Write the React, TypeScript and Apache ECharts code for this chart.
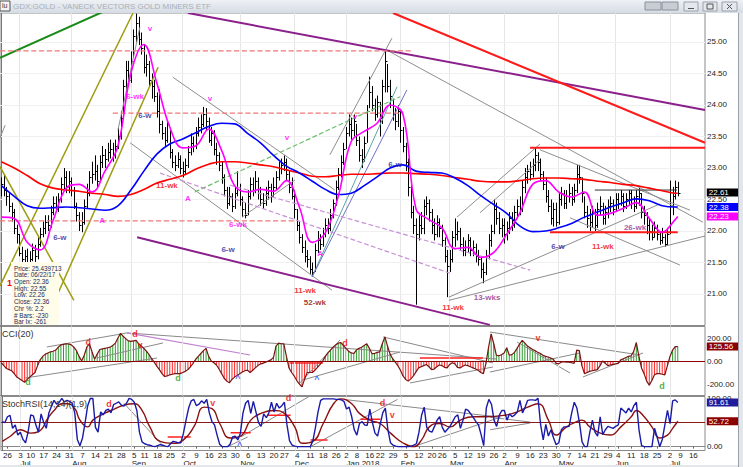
import React, { useEffect, useRef } from "react";
import * as echarts from "echarts";

const FONT = "'Liberation Sans', Arial, Helvetica, sans-serif";

// ---- daily bars (Jun 22 2017 .. Jul 6 2018), index = trading day ----
const closes = [
  22.75,22.65,22.55,22.40,22.30,22.05,21.95,21.65,21.55,21.60,
  21.50,21.55,21.70,21.60,21.80,21.95,22.05,22.15,22.10,22.30,
  22.45,22.35,22.50,22.75,22.85,22.70,22.80,22.65,22.40,22.25,
  22.10,22.15,22.40,22.60,22.85,22.90,22.95,22.80,23.10,23.20,
  23.15,23.25,23.30,23.20,23.35,23.50,23.80,24.30,24.55,24.40,
  24.70,25.10,25.30,25.05,24.90,24.60,24.65,24.40,24.30,24.15,
  23.90,23.70,23.55,23.45,23.70,23.25,23.10,23.05,23.15,23.00,
  22.95,23.05,23.25,23.40,23.35,23.55,23.65,23.70,23.85,23.75,
  23.45,23.55,23.30,23.20,23.05,22.85,22.65,22.45,22.55,22.40,
  22.60,22.70,22.50,22.35,22.25,22.55,22.75,22.65,22.80,22.60,
  22.50,22.45,22.60,22.70,22.55,22.70,22.85,23.00,23.05,23.10,
  22.90,22.70,22.55,22.35,22.10,21.90,21.75,21.60,21.55,21.40,
  21.35,21.70,21.85,21.80,21.95,22.10,22.05,22.25,22.45,22.70,
  22.90,23.10,23.30,23.55,23.70,23.60,23.75,23.45,23.20,23.15,
  23.40,23.90,24.20,24.00,23.85,24.05,23.80,24.30,24.70,24.30,
  24.15,23.85,23.75,23.90,23.60,23.35,23.10,22.70,22.30,22.10,
  21.95,22.10,22.05,22.40,22.45,22.30,22.10,21.95,22.15,22.05,
  21.85,21.60,21.45,21.55,21.90,21.95,22.00,21.80,21.70,21.75,
  21.85,21.70,21.75,21.60,21.55,21.40,21.35,21.60,21.85,22.00,
  22.35,22.20,22.05,22.10,21.95,22.05,22.20,22.10,22.30,22.40,
  22.35,22.70,22.85,22.95,22.90,23.05,23.20,23.10,22.90,22.75,
  22.55,22.40,22.20,22.35,22.15,22.50,22.60,22.45,22.55,22.60,
  22.50,22.65,22.90,22.85,22.60,22.30,22.20,22.15,22.30,22.10,
  22.35,22.40,22.20,22.30,22.40,22.45,22.35,22.50,22.45,22.55,
  22.40,22.50,22.60,22.45,22.40,22.55,22.60,22.30,22.25,22.10,
  22.00,21.90,22.05,21.95,21.85,21.90,21.80,21.95,22.40,22.55,
  22.70,22.61,
];
const highs = [
  22.85,22.90,22.70,22.60,22.45,22.35,22.10,21.95,21.75,21.70,
  21.72,21.68,21.80,21.78,21.90,22.05,22.15,22.25,22.25,22.40,
  22.55,22.55,22.60,22.85,23.00,22.95,22.95,22.85,22.70,22.45,
  22.30,22.30,22.50,22.75,22.95,23.10,23.20,23.05,23.20,23.35,
  23.30,23.40,23.45,23.40,23.45,23.65,23.90,24.40,24.70,24.70,
  24.85,25.20,25.45,25.40,25.15,24.95,24.80,24.70,24.50,24.40,
  24.20,24.25,23.75,23.65,23.75,23.60,23.30,23.20,23.25,23.20,
  23.10,23.15,23.35,23.55,23.50,23.65,23.80,23.85,23.97,23.95,
  23.80,23.65,23.60,23.40,23.25,23.10,22.90,22.70,22.70,22.60,
  22.70,22.95,22.75,22.55,22.45,22.65,22.85,22.85,22.95,22.85,
  22.70,22.60,22.70,22.80,22.75,22.85,22.95,23.10,23.15,23.20,
  23.15,22.95,22.85,22.65,22.35,22.15,21.95,21.85,21.70,21.60,
  21.50,21.80,22.00,21.95,22.05,22.20,22.20,22.35,22.50,22.80,
  23.00,23.20,23.40,23.65,23.85,23.80,23.85,23.70,23.50,23.30,
  23.50,24.00,24.45,24.30,24.10,24.15,24.05,24.40,24.87,24.65,
  24.40,24.10,23.95,24.00,23.90,23.65,23.40,23.15,22.80,22.40,
  22.20,22.25,22.30,22.50,22.55,22.50,22.35,22.20,22.25,22.20,
  22.10,21.90,21.70,21.70,22.00,22.20,22.15,22.05,21.90,21.85,
  21.95,21.90,21.85,21.80,21.70,21.60,21.50,21.70,21.95,22.10,
  22.50,22.45,22.30,22.20,22.20,22.15,22.30,22.30,22.40,22.50,
  22.55,22.80,23.00,23.05,23.10,23.15,23.32,23.25,23.15,22.95,
  22.85,22.65,22.50,22.45,22.45,22.60,22.70,22.65,22.65,22.75,
  22.70,22.75,23.05,23.05,22.85,22.55,22.40,22.35,22.40,22.35,
  22.45,22.55,22.45,22.40,22.50,22.55,22.50,22.60,22.60,22.65,
  22.60,22.60,22.65,22.65,22.55,22.65,22.68,22.60,22.40,22.30,
  22.20,22.10,22.15,22.10,22.00,22.05,21.95,22.05,22.80,22.70,
  22.80,22.78,
];
const lows = [
  22.55,22.55,22.40,22.30,22.15,21.95,21.80,21.60,21.48,21.48,
  21.45,21.45,21.52,21.50,21.55,21.75,21.90,21.95,22.00,22.05,
  22.25,22.30,22.30,22.45,22.65,22.60,22.60,22.55,22.35,22.15,
  22.00,21.98,22.10,22.35,22.55,22.75,22.80,22.70,22.80,23.00,
  23.00,23.10,23.15,23.10,23.15,23.30,23.45,23.80,24.20,24.30,
  24.35,24.75,25.00,24.95,24.80,24.50,24.45,24.30,24.10,24.05,
  23.80,23.55,23.45,23.35,23.40,23.15,23.00,22.95,23.00,22.90,
  22.85,22.90,23.00,23.20,23.25,23.30,23.50,23.55,23.65,23.60,
  23.40,23.35,23.20,23.05,22.95,22.75,22.55,22.35,22.40,22.30,
  22.35,22.55,22.40,22.22,22.20,22.25,22.50,22.55,22.60,22.50,
  22.40,22.35,22.40,22.50,22.45,22.55,22.65,22.80,22.90,22.95,
  22.80,22.60,22.50,22.20,22.00,21.80,21.65,21.50,21.42,21.32,
  21.27,21.35,21.65,21.70,21.75,21.90,21.95,22.00,22.20,22.40,
  22.65,22.85,23.05,23.30,23.50,23.45,23.50,23.35,23.10,23.00,
  23.10,23.40,23.95,23.90,23.75,23.80,23.50,23.70,24.20,24.20,
  23.95,23.75,23.60,23.65,23.40,23.25,22.95,22.55,22.20,21.95,
  20.83,21.85,21.95,21.95,22.25,22.15,21.95,21.85,21.90,21.90,
  21.75,21.50,20.95,21.35,21.50,21.75,21.85,21.70,21.60,21.60,
  21.65,21.60,21.60,21.50,21.45,21.25,21.17,21.30,21.55,21.75,
  21.95,22.10,21.95,21.90,21.80,21.85,21.95,22.00,22.05,22.20,
  22.25,22.30,22.60,22.75,22.80,22.85,22.95,22.95,22.80,22.65,
  22.45,22.30,22.10,22.07,22.07,22.10,22.40,22.35,22.35,22.45,
  22.40,22.45,22.60,22.75,22.45,22.20,22.05,22.00,22.05,22.00,
  22.05,22.25,22.10,22.10,22.20,22.30,22.25,22.30,22.35,22.40,
  22.30,22.35,22.40,22.35,22.30,22.35,22.40,22.20,22.10,21.95,
  21.85,21.85,21.90,21.85,21.78,21.80,21.75,21.78,21.95,22.25,
  22.50,22.55,
];

// ---- moving averages, read every 5 bars ----
const maIdx = [0,5,10,15,20,25,30,35,40,45,50,55,60,65,70,75,80,85,90,95,100,105,110,115,120,125,130,135,140,145,150,155,160,165,170,175,180,185,190,195,200,205,210,215,220,225,230,235,240,245,250,255,260,261];
const redMA = [23.10,23.00,22.88,22.75,22.68,22.65,22.63,22.60,22.58,22.55,22.58,22.66,22.76,22.82,22.88,22.98,23.06,23.10,23.10,23.08,23.05,23.02,22.97,22.92,22.87,22.86,22.88,22.90,22.90,22.91,22.92,22.92,22.91,22.90,22.88,22.85,22.82,22.79,22.78,22.78,22.80,22.83,22.84,22.84,22.83,22.82,22.79,22.77,22.74,22.72,22.68,22.64,22.60,22.60];
const blueMA = [22.72,22.55,22.40,22.36,22.37,22.38,22.37,22.35,22.33,22.40,22.65,22.95,23.22,23.38,23.46,23.56,23.66,23.71,23.70,23.55,23.40,23.20,23.03,22.92,22.79,22.66,22.58,22.60,22.72,22.86,23.00,23.05,22.95,22.93,22.92,22.84,22.72,22.56,22.42,22.28,22.08,21.99,22.00,22.05,22.12,22.22,22.30,22.38,22.45,22.51,22.48,22.40,22.38,22.38];
const magentaMA = [22.22,22.20,21.82,21.70,22.17,22.68,22.74,22.62,22.95,23.35,24.50,24.96,24.35,23.65,23.32,23.35,23.62,23.28,22.72,22.62,22.66,22.63,22.80,22.38,21.82,21.97,22.55,23.42,23.58,23.71,24.00,23.85,22.35,22.18,22.05,21.72,21.74,21.58,21.66,21.95,22.28,22.74,22.80,22.62,22.54,22.62,22.25,22.28,22.36,22.45,22.20,21.98,22.18,22.23];

// ---- CCI(20) per bar ----
const cci = [
  -15,-40,-65,-75,-85,-110,-140,-155,-170,-185,
  -160,-140,-120,-100,-40,10,40,60,70,80,
  85,95,120,140,145,150,148,140,120,90,
  40,0,50,120,150,80,15,60,100,105,
  110,115,120,135,155,200,240,215,195,175,
  170,175,180,150,130,110,85,55,20,-10,
  -45,-75,-110,-135,-130,-120,-115,-110,-110,-110,
  -100,-90,-75,-50,-20,15,40,65,90,110,
  40,0,-15,-35,-70,-110,-150,-175,-190,-160,
  -140,-125,-110,-95,-85,-80,-100,-80,-60,-40,
  -25,-20,-10,0,10,30,130,155,150,150,
  40,-60,-100,-130,-170,-200,-225,-160,-100,-100,
  -100,-80,-55,-30,0,40,70,95,120,140,
  155,160,135,110,85,70,65,95,110,120,
  135,150,110,65,65,75,80,150,210,130,
  60,20,-10,-40,-80,-130,-160,-175,-155,-130,
  -95,-60,-50,-40,-30,-50,-75,-70,-50,-35,
  -40,-55,-60,-30,-15,-25,-55,-60,-45,-35,
  -40,-50,-60,-70,-80,-100,-110,-20,120,235,
  150,50,45,55,70,115,50,55,75,110,
  150,180,155,130,115,100,90,75,65,50,
  40,35,25,15,-20,-25,-10,-5,-10,-10,
  -15,-20,95,90,-40,-110,-100,-90,-85,-80,
  -75,-40,0,-20,-40,-35,-30,-25,-20,10,
  20,30,40,45,85,160,40,-60,-110,-175,
  -210,-170,-120,-110,-110,-115,-120,-40,40,95,
  125,125.56,
];

// ---- StochRSI per bar and its signal ----
const stoch = [
  52,50,62,65,38,45,24,30,15,8,
  31,66,64,45,30,68,50,38,70,84,
  96,88,92,100,93,96,94,90,70,15,
  2,18,50,85,100,100,40,30,72,66,
  75,78,70,87,90,93,86,84,90,100,
  98,92,75,30,10,6,4,3,1,0,
  2,4,3,1,0,6,11,10,8,8,
  28,55,80,95,98,85,88,95,90,98,
  70,52,45,24,5,0,0,0,5,20,
  22,14,28,70,90,96,69,94,72,50,
  42,68,60,70,92,72,90,80,85,92,
  45,12,3,1,0,0,0,0,0,0,
  12,40,72,96,99,99,99,99,99,98,
  98,97,94,78,82,62,35,24,48,52,
  45,44,78,50,28,22,46,70,80,35,
  8,3,1,0,0,0,0,0,1,3,
  6,30,65,82,40,32,30,42,55,62,
  40,30,36,42,52,62,66,38,55,78,
  75,68,60,52,45,25,2,80,98,88,
  55,42,65,75,75,55,68,62,66,72,
  96,70,82,96,97,97,96,100,45,14,
  46,22,35,18,4,8,35,41,41,42,
  70,92,80,50,10,0,0,30,55,30,
  22,62,25,35,42,40,38,42,45,80,
  75,70,80,72,85,92,35,2,0,0,
  0,0,38,20,0,15,45,75,48,95,
  97,91.61,
];
const signalIdx = [0,3,7,11,14,18,20,23,25,28,30,33,35,38,42,47,51,54,57,61,66,70,74,78,81,84,88,92,96,100,105,109,113,116,120,124,128,131,135,138,142,146,150,155,159,162,165,169,173,177,182,187,194,199,203,207,211,214,218,222,224,227,231,235,239,243,245,248,251,254,257,259,261];
const signalVals = [11,21,35,28,31,62,75,89,89,79,55,41,55,65,75,86,89,75,41,11,7,14,41,82,79,48,18,22,55,69,75,69,41,7,11,48,89,99,89,69,55,48,28,7,0,14,41,48,41,55,62,62,65,72,82,89,55,24,41,52,55,41,28,24,41,62,75,62,41,18,24,38,52.72];

// ---- axis labels ----
const weekStartIdx = [2,7,11,16,21,26,31,36,41,46,51,55,60,65,70,75,80,85,90,95,100,105,109,114,119,124,129,133,137,142,146,151,156,161,166,170,175,180,185,190,194,199,204,209,214,219,224,229,234,238,243,248,253,258,262,267];
const weekDays = ["26","3","10","17","24","31","7","14","21","28","5","11","18","25","2","9","16","23","30","6","13","20","27","4","11","18","26","2","8","16","22","29","5","12","20","26","5","12","19","26","2","9","16","23","30","7","14","21","29","4","11","18","25","2","9","16"];
const monthIdx = [7,27,50,70,92,113,133,154,173,194,215,237,258];
const monthNames = ["Jul","Aug","Sep","Oct","Nov","Dec","Jan 2018","Feb","Mar","Apr","May","Jun","Jul"];
const priceTicks = [21,21.5,22,22.5,23,23.5,24,24.5,25];
const cciTicks = [-200,0,200];
const stochTicks = [0,100];

// ---- trend lines [i1, v1, i2, v2] ----
const mainGray = [
  [148.8,24.87,270.7,22.14],[207.8,23.29,265.7,22.33],[219.4,22.21,261.8,21.46],
  [66.2,24.44,128.7,22.65],[49.7,23.40,127.6,21.06],[126.8,23.21,150.7,25.06],
  [172.7,20.90,271.5,21.92],[172.7,20.95,254.1,22.43],[175.8,22.22,207.8,23.38],
  [184.7,22.29,207.8,23.13],[92.9,22.22,113.3,22.81],[45.0,23.60,53.5,25.24],
  [-0.5,23.48,1.5,23.68],
];
const mainDark = [[229,22.65,260.7,22.65]];
const mainPurple = [[72,25.46,271.5,23.92],[52.4,21.9,188.5,20.51]];
const mainRed = [[151.1,25.46,271.5,23.40],[204,23.32,271.5,23.32],[211.7,21.98,261,21.98]];
const mainGreen = [[-0.5,24.75,60,25.86]];
const mainOlive = [[-0.5,21.13,50.8,25.46],[20.7,20.9,60.5,24.6],[-0.5,23.02,28,20.9]];
const mainRedDash = [[-0.5,24.86,159,24.86],[43,23.87,155,23.87],[-0.5,22.16,113.3,22.16]];
const mainTeal = [[119.9,21.27,152.7,24.29]];
const mainSlate = [[119.9,21.27,156.5,24.24]];
const mainGreenDash = [[74.7,22.62,153.8,24.13]];
const mainPurpleDash = [[61.2,22.92,173.1,21.33],[88.2,22.73,204,21.38]];
const cciGray = [
  [17.6,122,48.5,244],[48.5,244,191.2,17],[9.1,-148,60.1,26],[36.9,26,62.4,157],
  [115.2,-191,130.7,183],[116.4,-165,153.8,78],[147.3,209,189.7,-17],[157.7,-191,189.7,-52],
  [188.5,252,246.4,52],[199,165,219.4,-104],[224.4,-139,247.6,70],[188.5,-96,223.3,70],
];
const cciPurple = [[48.5,244,96,52]];
const cciRed = [[161.5,26,185.8,26],[111.4,-17,124.1,-17]];
const stochGray = [
  [47,90,62.4,0],[87.1,0,94.8,20],[92.1,20,119.1,106],[119.1,0,152.7,98],
  [131.8,98,192.4,61],[158.8,0,192.4,61],[188.5,61,204,51],[188.5,35,204,49],
];
const stochRed = [[63.9,20,72.8,20],[88.2,29,96,29],[102.5,65,111.4,65],[119.1,14,125.7,14],[138.4,57,146.1,57]];

// ---- text notes [i, value, text, color] ----
const MAG = "#ff00ff", NAVY = "#1c1c9c", RED = "#ee0000", MAROON = "#8b0000", PURP = "#8b2f8b", GRN = "#1a9a1a", BLU = "#2244ff";
const mainNotes = [
  [57.4,25.22,"v",MAG],[51.6,24.13,"6-wk",MAG],[55.4,23.84,"6-w",NAVY],[80.5,24.1,"v",MAG],
  [63.9,22.73,"11-wk",RED],[38.9,22.17,"A",MAG],[22.6,21.89,"6-w",NAVY],[72.0,22.52,"A",MAG],
  [110.2,23.48,"v",MAG],[91.3,22.1,"6-wk",MAG],[87.5,21.7,"6-w",NAVY],[123,21.65,"A",MAG],
  [117.2,21.06,"11-wk",RED],[121,20.86,"52-wk",MAROON],[136.5,23.81,"v",MAG],[151.9,23.06,"6-w",NAVY],
  [174.3,20.79,"11-wk",RED],[187.4,20.95,"13-wks",PURP],[214.8,21.76,"6-w",NAVY],[232.1,21.76,"11-wk",RED],
  [244.5,22.05,"26-wk",PURP],
];
const cciNotes = [
  [33.5,165,"d",RED],[51.6,235,"d",RED],[53.5,139,"v",RED],[10.3,-183,"d",GRN],[68.2,-148,"d",GRN],
  [91.3,-148,"^",BLU],[121.8,-157,"^",BLU],[132.6,157,"d",RED],[207.1,200,"v",RED],[254.9,-218,"d",GRN],
];
const stochNotes = [
  [41.2,88,"d",RED],[81.3,90,"v",RED],[91.7,4,"^",BLU],[110.6,100,"d",RED],[146.9,90,"d",RED],[150.7,65,"v",RED],
];
const infoLines = ["Price: 25.439713","Date: 06/22/17","Open: 22.36","High: 22.55","Low: 22.26","Close: 22.36","Chr %: 2.2","# Bars: -230","Bar Ix: -261"];

const X_MIN = -0.5, X_MAX = 271.5;
const TITLE = "GDX:GOLD - VANECK VECTORS GOLD MINERS ETF";

function segSeries(segs: number[][], color: string, width: number, type: string, axis: number) {
  return segs.map((s) => ({
    type: "line", xAxisIndex: axis, yAxisIndex: axis,
    data: [[s[0], s[1]], [s[2], s[3]]],
    symbol: "none", silent: true, clip: true, z: 4,
    lineStyle: { color, width, type },
  }));
}
function noteSeries(notes: any[], axis: number, size: number) {
  return {
    type: "scatter", xAxisIndex: axis, yAxisIndex: axis, symbolSize: 1, silent: true, z: 9, clip: false,
    itemStyle: { color: "rgba(0,0,0,0)" },
    data: notes.map((n) => ({
      value: [n[0], n[1]],
      label: { show: true, position: "inside", formatter: n[2], color: n[3], fontSize: size, fontWeight: "bold", fontFamily: FONT, lineHeight: size },
    })),
  };
}
function tag(text: string, bg: string) {
  return {
    show: true, formatter: text, distance: 29, backgroundColor: bg, color: "#fff",
    fontSize: 8, fontFamily: FONT, padding: [0, 2, 0, 2], width: 30, lineHeight: 8, align: "left",
  };
}
const pairs = (idx: number[], vals: number[]) => idx.map((x, k) => [x, vals[k]]);
const perBar = (vals: number[]) => vals.map((v, i) => [i, v]);

function buildOption() {
  const xBase = (g: number) => ({ type: "value", gridIndex: g, min: X_MIN, max: X_MAX, show: false });
  const last = closes.length - 1;
  const monthLines = monthIdx.map((v) => ({ xAxis: v, lineStyle: { color: "#e6e6e6", width: 1, type: "solid" } }));
  const series: any[] = [
    {
      type: "custom", xAxisIndex: 0, yAxisIndex: 0, z: 3, clip: true, silent: true,
      data: closes.map((c, i) => [i, highs[i], lows[i], c]),
      encode: { x: 0, y: [1, 2] },
      renderItem: (params: any, api: any) => {
        const i = api.value(0);
        const top = api.coord([i, api.value(1)]);
        const bot = api.coord([i, api.value(2)]);
        const cl = api.coord([i, api.value(3)]);
        const x = Math.round(top[0]) + 0.5;
        const cy = Math.round(cl[1]) + 0.5;
        return {
          type: "group",
          children: [
            { type: "line", shape: { x1: x, y1: top[1], x2: x, y2: bot[1] }, style: { stroke: "#000", lineWidth: 1 } },
            { type: "line", shape: { x1: x, y1: cy, x2: x + 2, y2: cy }, style: { stroke: "#000", lineWidth: 1 } },
          ],
        };
      },
      markLine: {
        silent: true, symbol: "none", label: { show: false }, z: 1,
        data: [...monthLines, ...priceTicks.map((v) => ({ yAxis: v, lineStyle: { color: "#f0f0f0", width: 1, type: "solid" } }))],
      },
    },
    ...segSeries(mainGray, "#8e8e8e", 1, "solid", 0),
    ...segSeries(mainDark, "#333", 1, "solid", 0),
    ...segSeries(mainPurple, "#8b1f8b", 2, "solid", 0),
    ...segSeries(mainRed, "#ff1a1a", 2, "solid", 0),
    ...segSeries(mainGreen, "#178a17", 2, "solid", 0),
    ...segSeries(mainOlive, "#9c9c10", 1.5, "solid", 0),
    ...segSeries(mainRedDash, "#f07878", 1.3, "dashed", 0),
    ...segSeries(mainTeal, "#5aa5a5", 1, "solid", 0),
    ...segSeries(mainSlate, "#7070c8", 1, "solid", 0),
    ...segSeries(mainGreenDash, "#6abf6a", 1.2, "dashed", 0),
    ...segSeries(mainPurpleDash, "#c890d6", 1.2, "dashed", 0),
    {
      type: "line", xAxisIndex: 0, yAxisIndex: 0, data: pairs(maIdx, redMA), smooth: 0.4, symbol: "none", z: 5,
      lineStyle: { color: "#ff0000", width: 1.6 },
    },
    {
      type: "line", xAxisIndex: 0, yAxisIndex: 0, data: pairs(maIdx, blueMA), smooth: 0.4, symbol: "none", z: 5,
      lineStyle: { color: "#0000ff", width: 1.6 }, endLabel: tag(blueMA[blueMA.length - 1].toFixed(2), "#0000ff"),
    },
    {
      type: "line", xAxisIndex: 0, yAxisIndex: 0, data: pairs(maIdx, magentaMA), smooth: 0.4, symbol: "none", z: 5,
      lineStyle: { color: "#ff00ff", width: 1.6 }, endLabel: tag(magentaMA[magentaMA.length - 1].toFixed(2), "#ff00ff"),
    },
    {
      type: "line", xAxisIndex: 0, yAxisIndex: 0, data: [[last, closes[last]], [last, closes[last]]], symbol: "none", z: 10,
      lineStyle: { opacity: 0 }, endLabel: tag(closes[last].toFixed(2), "#000"),
    },
    noteSeries(mainNotes, 0, 8),
    // CCI panel
    {
      type: "bar", xAxisIndex: 1, yAxisIndex: 1, data: perBar(cci), barWidth: 1, silent: true, z: 2,
      itemStyle: { color: (p: any) => (p.value[1] >= 0 ? "#2f9a2f" : "#ff2a2a") },
      markLine: {
        silent: true, symbol: "none", label: { show: false },
        data: [...monthLines, { yAxis: 0, lineStyle: { color: "#8b0000", width: 1.2, type: "solid" } }],
      },
    },
    {
      type: "line", xAxisIndex: 1, yAxisIndex: 1, data: perBar(cci), symbol: "none", z: 5,
      lineStyle: { color: "#7a1414", width: 1.2 }, endLabel: tag(cci[cci.length - 1].toFixed(2), "#8b0000"),
    },
    ...segSeries(cciGray, "#8a8a8a", 1, "solid", 1),
    ...segSeries(cciPurple, "#c080d0", 1.2, "solid", 1),
    ...segSeries(cciRed, "#ff2020", 1.5, "solid", 1),
    noteSeries(cciNotes, 1, 9),
    // StochRSI panel
    {
      type: "line", xAxisIndex: 2, yAxisIndex: 2, data: pairs(signalIdx, signalVals), smooth: 0.5, symbol: "none", z: 5,
      lineStyle: { color: "#8b1010", width: 1.4 }, endLabel: tag(signalVals[signalVals.length - 1].toFixed(2), "#8b0000"),
      markLine: {
        silent: true, symbol: "none", label: { show: false },
        data: [...monthLines, { yAxis: 50, lineStyle: { color: "#8b1a1a", width: 1.2, type: "solid" } }],
      },
    },
    {
      type: "line", xAxisIndex: 2, yAxisIndex: 2, data: perBar(stoch), symbol: "none", z: 6,
      lineStyle: { color: "#1a1aa8", width: 1.4 }, endLabel: tag(stoch[stoch.length - 1].toFixed(2), "#1c1c9c"),
    },
    ...segSeries(stochGray, "#8a8a8a", 1, "solid", 2),
    ...segSeries(stochRed, "#ff2020", 1.5, "solid", 2),
    noteSeries(stochNotes, 2, 9),
  ];

  const yLabel = { fontSize: 8, color: "#222", margin: 2, fontFamily: FONT, lineHeight: 6, formatter: (v: number) => v.toFixed(2) };
  const graphic: any[] = [
    {
      type: "rect", shape: { x: 0, y: 0, width: 743, height: 13 }, z: 100,
      style: { fill: { type: "linear", x: 0, y: 0, x2: 0, y2: 1, colorStops: [{ offset: 0, color: "#eef1f5" }, { offset: 1, color: "#d6dce4" }] } },
    },
    { type: "rect", shape: { x: 0, y: 1, width: 10, height: 10 }, z: 101, style: { fill: "#f4f4f4", stroke: "#555", lineWidth: 1 } },
    { type: "text", x: 2, y: 2, z: 102, style: { text: "lu", fill: "#333", fontSize: 7, fontFamily: FONT, lineHeight: 7 } },
    { type: "text", x: 13, y: 2.5, z: 101, style: { text: TITLE, fill: "#a9b0b8", fontSize: 8, fontFamily: FONT, lineHeight: 8 } },
    { type: "rect", shape: { x: 645, y: 2, width: 16, height: 8 }, z: 101, style: { fill: "#c8cdd3", stroke: "#8a9099" } },
    { type: "rect", shape: { x: 662, y: 2, width: 16, height: 8 }, z: 101, style: { fill: "#c8cdd3", stroke: "#8a9099" } },
    { type: "rect", shape: { x: 684, y: 2, width: 14, height: 9 }, z: 101, style: { fill: "#e4e8ec", stroke: "#9aa2ab" } },
    { type: "rect", shape: { x: 703, y: 2, width: 14, height: 9 }, z: 101, style: { fill: "#e4e8ec", stroke: "#9aa2ab" } },
    { type: "rect", shape: { x: 722, y: 2, width: 15, height: 9 }, z: 101, style: { fill: "#e4e8ec", stroke: "#9aa2ab" } },
    { type: "line", shape: { x1: 688, y1: 8.5, x2: 694, y2: 8.5 }, z: 102, style: { stroke: "#555" } },
    { type: "rect", shape: { x: 707, y: 4, width: 6, height: 5 }, z: 102, style: { fill: "none", stroke: "#555" } },
    { type: "line", shape: { x1: 727, y1: 4, x2: 732, y2: 9 }, z: 102, style: { stroke: "#555" } },
    { type: "line", shape: { x1: 732, y1: 4, x2: 727, y2: 9 }, z: 102, style: { stroke: "#555" } },
    { type: "rect", shape: { x: 739, y: 13, width: 4, height: 454 }, z: 100, style: { fill: "#e3e7ec" } },
    { type: "line", shape: { x1: 738.5, y1: 13, x2: 738.5, y2: 467 }, z: 101, style: { stroke: "#9aa0a8" } },
    { type: "rect", shape: { x: 0, y: 465, width: 743, height: 2 }, z: 100, style: { fill: "#e3e7ec" } },
    { type: "rect", shape: { x: 11, y: 262, width: 48, height: 63 }, z: 50, style: { fill: "#fffcea" } },
    { type: "text", x: 7, y: 278, z: 52, style: { text: "1", fill: "#ee0000", fontSize: 9, fontWeight: "bold", fontFamily: FONT, lineHeight: 9 } },
    ...infoLines.map((t, k) => ({
      type: "text", x: 14, y: 265 + k * 6.7, z: 51,
      style: { text: t, fill: "#1a2a5a", fontSize: 6.3, lineHeight: 6.3, fontFamily: FONT },
    })),
    { type: "text", x: 2, y: 329, z: 60, style: { text: "CCI(20)", fill: "#333", fontSize: 9, fontFamily: FONT, lineHeight: 9 } },
    { type: "text", x: 2, y: 399, z: 60, style: { text: "StochRSI(14,14)(1,9)", fill: "#333", fontSize: 9, fontFamily: FONT, lineHeight: 9 } },
  ];

  return {
    animation: false,
    backgroundColor: "#ffffff",
    textStyle: { fontFamily: FONT },
    grid: [
      { left: 0, right: 38, top: 13, height: 312.5, show: true, borderColor: "#8a8a8a", borderWidth: 1, backgroundColor: "#fff" },
      { left: 0, right: 38, top: 326.5, height: 69, show: true, borderColor: "#8a8a8a", borderWidth: 1, backgroundColor: "#fff" },
      { left: 0, right: 38, top: 396.5, height: 54.5, show: true, borderColor: "#8a8a8a", borderWidth: 1, backgroundColor: "#fff" },
    ],
    xAxis: [
      xBase(0),
      xBase(1),
      {
        type: "value", gridIndex: 2, min: X_MIN, max: X_MAX, position: "bottom",
        axisLine: { show: true, lineStyle: { color: "#8a8a8a" } },
        axisTick: { show: true, customValues: weekStartIdx, length: 2, lineStyle: { color: "#666" } },
        axisLabel: {
          show: true, customValues: weekStartIdx, fontSize: 8, lineHeight: 7, color: "#222", margin: 1, fontFamily: FONT,
          formatter: (v: number) => weekDays[weekStartIdx.indexOf(v)] ?? "",
        },
        splitLine: { show: false },
      },
      {
        type: "value", gridIndex: 2, min: X_MIN, max: X_MAX, position: "bottom", offset: 8,
        axisLine: { show: false }, axisTick: { show: false }, splitLine: { show: false },
        axisLabel: {
          show: true, customValues: monthIdx, fontSize: 8, lineHeight: 7, color: "#222", margin: 1, align: "left", fontFamily: FONT,
          formatter: (v: number) => monthNames[monthIdx.indexOf(v)] ?? "",
        },
      },
    ],
    yAxis: [
      {
        type: "value", gridIndex: 0, position: "right", min: 20.5, max: 25.46,
        axisLine: { show: true, lineStyle: { color: "#777" } }, axisTick: { show: false }, splitLine: { show: false },
        axisLabel: { ...yLabel, customValues: priceTicks },
      },
      {
        type: "value", gridIndex: 1, position: "right", min: -300, max: 300,
        axisLine: { show: true, lineStyle: { color: "#777" } }, axisTick: { show: false }, splitLine: { show: false },
        axisLabel: { ...yLabel, customValues: cciTicks },
      },
      {
        type: "value", gridIndex: 2, position: "right", min: -8, max: 104,
        axisLine: { show: true, lineStyle: { color: "#777" } }, axisTick: { show: false }, splitLine: { show: false },
        axisLabel: { ...yLabel, customValues: stochTicks },
      },
    ],
    series,
    graphic,
  };
}

export default function App() {
  const ref = useRef<HTMLDivElement>(null);
  useEffect(() => {
    document.body.style.margin = "0";
    const chart = echarts.init(ref.current!, null, { renderer: "svg" });
    chart.setOption(buildOption() as any);
    return () => chart.dispose();
  }, []);
  return <div ref={ref} style={{ width: 743, height: 467, background: "#fff" }} />;
}
